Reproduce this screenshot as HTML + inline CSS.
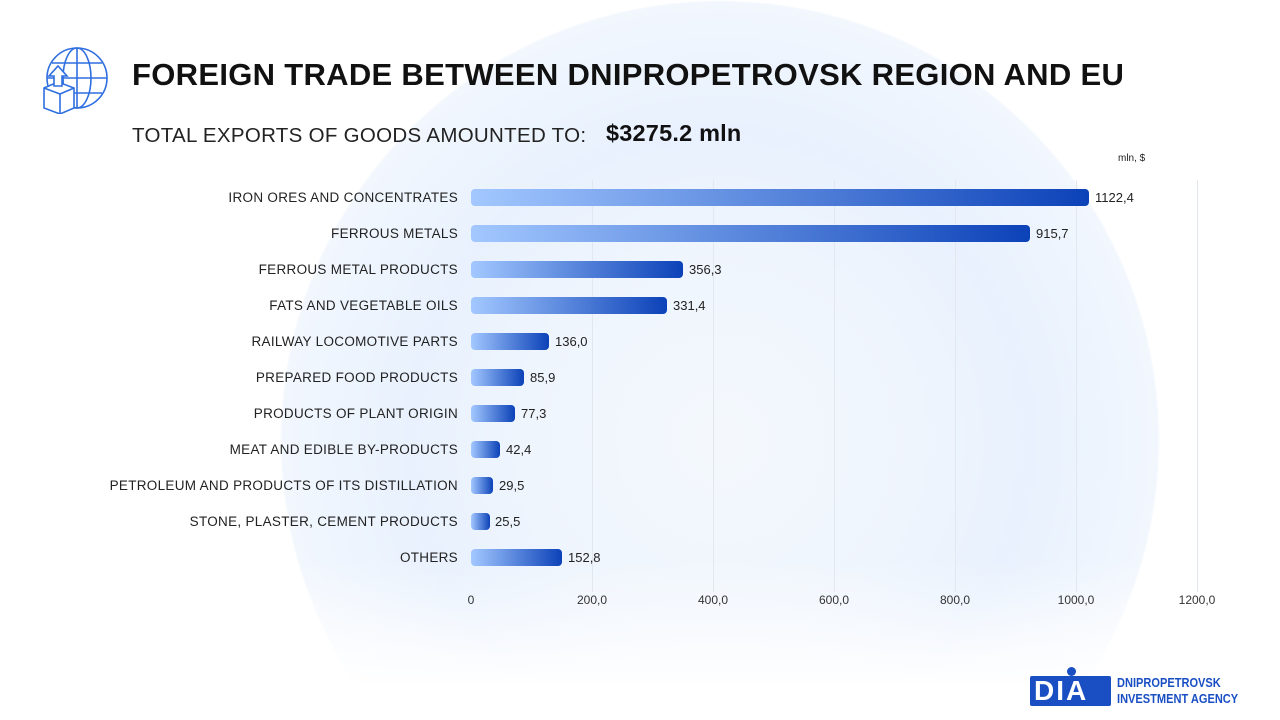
<!DOCTYPE html>
<html><head><style>
html,body{margin:0;width:1280px;height:720px;overflow:hidden}
body{background:#fff;font-family:"Liberation Sans",sans-serif;position:relative}
.wrap{position:absolute;left:0;top:0;width:1280px;height:720px;overflow:hidden;background:radial-gradient(circle 440px at 720px 440px,#f4f8fd 0%,#eff5fd 45%,#e8f1fd 70%,#f2f7fe 99.5%,#fff 100%)}
.fade{position:absolute;left:0;top:560px;width:1280px;height:160px;background:linear-gradient(#ffffff00,#fff 80%)}
.t{position:absolute;white-space:nowrap}
.lab{position:absolute;right:822px;font-size:13.5px;color:#222;letter-spacing:0.3px}
.bar{position:absolute;left:471px;height:17px;border-radius:4px;background:linear-gradient(90deg,#a3c8ff,#0c42b8)}
.v{position:absolute;font-size:13px;color:#222}
.g{position:absolute;top:180px;height:412px;width:1px;background:#e3e8ef}
.x{position:absolute;top:593px;font-size:12px;color:#333;transform:translateX(-50%)}
</style></head><body><div class="wrap">
<div class="fade"></div>
<svg style="position:absolute;left:40px;top:46px" width="70" height="68" viewBox="0 0 70 68" fill="none" stroke="#2f6fe0" stroke-width="1.6">
<circle cx="37" cy="32" r="30"/><ellipse cx="37" cy="32" rx="14" ry="30"/><line x1="7" y1="32" x2="67" y2="32"/><line x1="12" y1="17" x2="62" y2="17"/><line x1="12" y1="47" x2="62" y2="47"/><line x1="37" y1="2" x2="37" y2="62"/>
<path d="M4 42 L18 36 L34 42 L34 62 L20 68 L4 62 Z" fill="#fff"/><path d="M4 42 L20 48 L34 42 M20 48 L20 68"/>
<path d="M14 40 L14 30 L9 30 L18 20 L27 30 L22 30 L22 40 Z" fill="#fff"/></svg>
<div class="t" style="left:132px;top:57px;font-size:31px;font-weight:bold;color:#111;letter-spacing:0.3px">FOREIGN TRADE BETWEEN DNIPROPETROVSK REGION AND EU</div>
<div class="t" style="left:132px;top:124px;font-size:20.5px;color:#222;letter-spacing:0.3px">TOTAL EXPORTS OF GOODS AMOUNTED TO:</div>
<div class="t" style="left:606px;top:120px;font-size:23.5px;font-weight:bold;color:#111;letter-spacing:0.2px">$3275.2 mln</div>
<div class="t" style="left:1118px;top:153px;font-size:10px;color:#222">mln, $</div>
<div class="g" style="left:592px"></div><div class="g" style="left:713px"></div><div class="g" style="left:834px"></div><div class="g" style="left:955px"></div><div class="g" style="left:1076px"></div><div class="g" style="left:1197px"></div>
<div class="x" style="left:471px">0</div><div class="x" style="left:592px">200,0</div><div class="x" style="left:713px">400,0</div><div class="x" style="left:834px">600,0</div><div class="x" style="left:955px">800,0</div><div class="x" style="left:1076px">1000,0</div><div class="x" style="left:1197px">1200,0</div>

<div class="lab" style="top:190px">IRON ORES AND CONCENTRATES</div><div class="bar" style="top:189px;width:618px"></div><div class="v" style="left:1095px;top:190px">1122,4</div>
<div class="lab" style="top:226px">FERROUS METALS</div><div class="bar" style="top:225px;width:559px"></div><div class="v" style="left:1036px;top:226px">915,7</div>
<div class="lab" style="top:262px">FERROUS METAL PRODUCTS</div><div class="bar" style="top:261px;width:212px"></div><div class="v" style="left:689px;top:262px">356,3</div>
<div class="lab" style="top:298px">FATS AND VEGETABLE OILS</div><div class="bar" style="top:297px;width:196px"></div><div class="v" style="left:673px;top:298px">331,4</div>
<div class="lab" style="top:334px">RAILWAY LOCOMOTIVE PARTS</div><div class="bar" style="top:333px;width:78px"></div><div class="v" style="left:555px;top:334px">136,0</div>
<div class="lab" style="top:370px">PREPARED FOOD PRODUCTS</div><div class="bar" style="top:369px;width:53px"></div><div class="v" style="left:530px;top:370px">85,9</div>
<div class="lab" style="top:406px">PRODUCTS OF PLANT ORIGIN</div><div class="bar" style="top:405px;width:44px"></div><div class="v" style="left:521px;top:406px">77,3</div>
<div class="lab" style="top:442px">MEAT AND EDIBLE BY-PRODUCTS</div><div class="bar" style="top:441px;width:29px"></div><div class="v" style="left:506px;top:442px">42,4</div>
<div class="lab" style="top:478px">PETROLEUM AND PRODUCTS OF ITS DISTILLATION</div><div class="bar" style="top:477px;width:22px"></div><div class="v" style="left:499px;top:478px">29,5</div>
<div class="lab" style="top:514px">STONE, PLASTER, CEMENT PRODUCTS</div><div class="bar" style="top:513px;width:19px"></div><div class="v" style="left:495px;top:514px">25,5</div>
<div class="lab" style="top:550px">OTHERS</div><div class="bar" style="top:549px;width:91px"></div><div class="v" style="left:568px;top:550px">152,8</div>

<div style="position:absolute;left:1030px;top:676px;width:81px;height:30px;background:#1a4fc4;border-radius:2px"></div>
<div style="position:absolute;left:1067px;top:667px;width:9px;height:9px;border-radius:50%;background:#1a4fc4"></div>
<div class="t" style="left:1034px;top:675px;font-size:28px;font-weight:bold;color:#fff;letter-spacing:2px">DIA</div>
<div class="t" style="left:1117px;top:675px;font-size:13px;color:#1a4fc4;font-weight:bold;line-height:16px;transform:scaleX(0.85);transform-origin:left">DNIPROPETROVSK<br>INVESTMENT AGENCY</div>
</div></body></html>
